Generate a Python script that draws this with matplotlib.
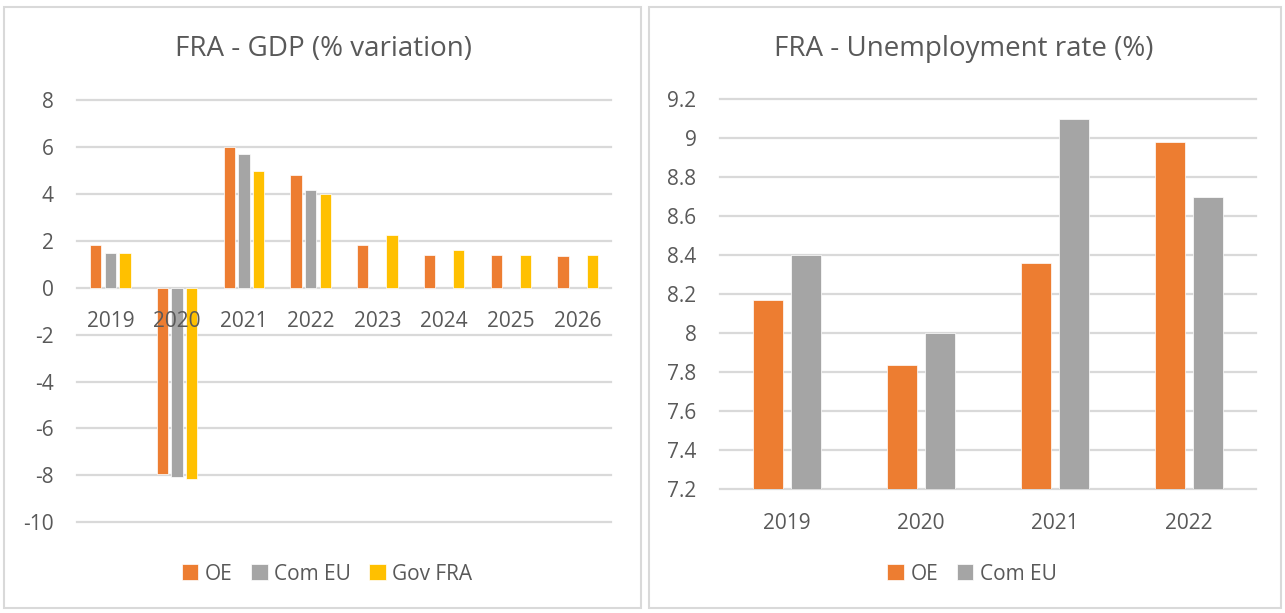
import numpy as np
import matplotlib
matplotlib.use("Agg")
import matplotlib.pyplot as plt
from matplotlib.patches import Rectangle

plt.rcParams['font.family'] = ['Open Sans', 'DejaVu Sans']

# ---- data ----
gdp_years = ['2019', '2020', '2021', '2022', '2023', '2024', '2025', '2026']
gdp_oe = [1.84, -7.95, 6.02, 4.83, 1.85, 1.42, 1.42, 1.34]
gdp_com_eu = [1.50, -8.07, 5.71, 4.18, np.nan, np.nan, np.nan, np.nan]
gdp_gov_fra = [1.50, -8.17, 5.00, 4.00, 2.27, 1.62, 1.42, 1.42]

unemp_years = ['2019', '2020', '2021', '2022']
unemp_oe = [8.17, 7.84, 8.36, 8.98]
unemp_com_eu = [8.40, 8.00, 9.10, 8.70]

gdp_ticks = [-10, -8, -6, -4, -2, 0, 2, 4, 6, 8]
unemp_ticks = [7.2, 7.4, 7.6, 7.8, 8.0, 8.2, 8.4, 8.6, 8.8, 9.0, 9.2]
unemp_tick_labels = ['7.2', '7.4', '7.6', '7.8', '8', '8.2', '8.4', '8.6', '8.8', '9', '9.2']

C_OE = '#ED7D31'
C_EU = '#A5A5A5'
C_GOV = '#FFC000'
GRID = '#D9D9D9'
TXT = '#595959'

W, H = 1285, 613
fig = plt.figure(figsize=(W / 100, H / 100), dpi=100)
fig.patch.set_facecolor('white')


def px_axes(x0, x1, ytop, ybot):
    return fig.add_axes([x0 / W, (H - ybot) / H, (x1 - x0) / W, (ybot - ytop) / H])


# panel borders
for (x0, x1) in [(4, 641), (649, 1281)]:
    fig.patches.append(Rectangle((x0 / W, (H - 608) / H), (x1 - x0) / W, (608 - 7) / H,
                                 transform=fig.transFigure, fill=False,
                                 edgecolor=GRID, linewidth=1.5))


def style_axes(ax, ticks):
    for s in ax.spines.values():
        s.set_color('none')
    # gridlines drawn beneath the bars, tick labels above them
    for t in ticks:
        ax.axhline(t, color=GRID, linewidth=1.6, zorder=0.5, clip_on=False)
    ax.set_axisbelow(False)
    ax.tick_params(axis='x', length=0, pad=17, labelsize=15, colors=TXT)
    ax.tick_params(axis='y', length=0, pad=17, labelsize=15, colors=TXT)


# ---------------- left chart ----------------
ax1 = px_axes(77, 611, 99.3, 523.2)
x = np.arange(len(gdp_years))
bw, step = 0.172, 0.219
b1 = ax1.bar(x - step, gdp_oe, bw, color=C_OE, edgecolor='white', linewidth=0.5, label='OE', zorder=1)
b2 = ax1.bar(x, gdp_com_eu, bw, color=C_EU, edgecolor='white', linewidth=0.5, label='Com EU', zorder=1)
b3 = ax1.bar(x + step, gdp_gov_fra, bw, color=C_GOV, edgecolor='white', linewidth=0.5, label='Gov FRA', zorder=1)
ax1.set_xlim(-0.5, len(gdp_years) - 0.5)
ax1.set_ylim(-10.05, 8.05)
ax1.set_yticks(gdp_ticks)
ax1.set_yticklabels([str(t) for t in gdp_ticks])
ax1.set_xticks(x)
ax1.set_xticklabels(gdp_years)
ax1.spines['bottom'].set_position(('data', 0))
style_axes(ax1, gdp_ticks)
fig.text(323.5 / W, 1 - 49 / H, 'FRA - GDP (% variation)', ha='center', va='center',
         fontsize=20, color=TXT)
fig.legend(handles=[b1, b2, b3], loc='center', bbox_to_anchor=(327 / W, 1 - 574 / H),
           ncol=3, frameon=False, fontsize=15, labelcolor=TXT,
           handlelength=0.8, handleheight=0.8, handletextpad=0.3, columnspacing=0.9)

# ---------------- right chart ----------------
ax2 = px_axes(720, 1256, 99.3, 489.3)
x2 = np.arange(len(unemp_years))
bw2, off2 = 0.228, 0.142
c1 = ax2.bar(x2 - off2, unemp_oe, bw2, color=C_OE, edgecolor='white', linewidth=0.5, label='OE', zorder=1)
c2 = ax2.bar(x2 + off2, unemp_com_eu, bw2, color=C_EU, edgecolor='white', linewidth=0.5, label='Com EU', zorder=1)
ax2.set_xlim(-0.5, len(unemp_years) - 0.5)
ax2.set_ylim(7.2, 9.2)
ax2.set_yticks(unemp_ticks)
ax2.set_yticklabels(unemp_tick_labels)
ax2.set_xticks(x2)
ax2.set_xticklabels(unemp_years)
style_axes(ax2, unemp_ticks)
fig.text(964 / W, 1 - 49 / H, 'FRA - Unemployment rate (%)', ha='center', va='center',
         fontsize=20, color=TXT)
fig.legend(handles=[c1, c2], loc='center', bbox_to_anchor=(972 / W, 1 - 574 / H),
           ncol=2, frameon=False, fontsize=15, labelcolor=TXT,
           handlelength=0.8, handleheight=0.8, handletextpad=0.3, columnspacing=0.9)

fig.savefig('out.png', dpi=100, facecolor='white')
